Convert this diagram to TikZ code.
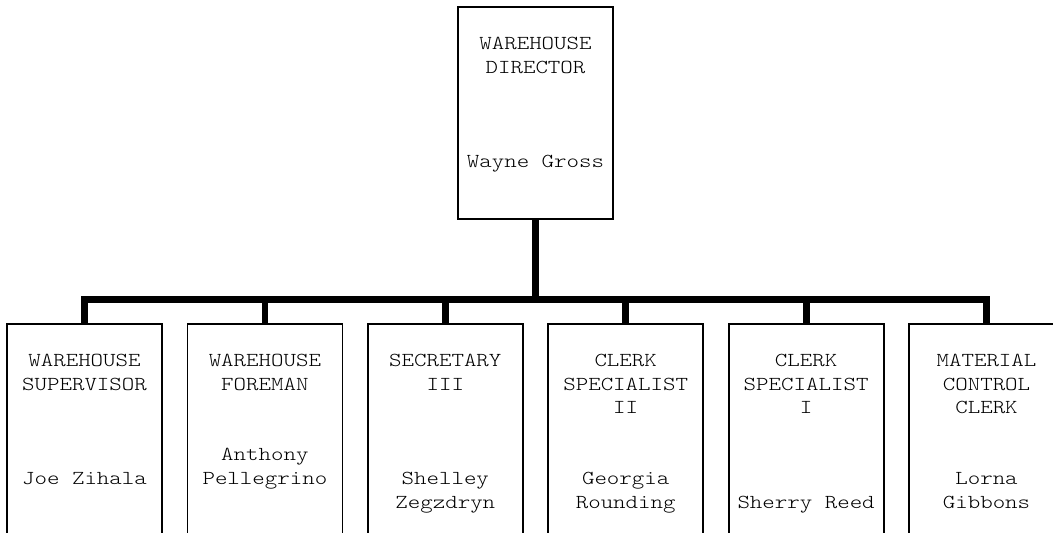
\documentclass[tikz,border=0pt]{standalone}
\usepackage{fontspec}
\newfontfamily\typed[FakeStretch=1.2]{lmmonolt10-regular.otf}
\begin{document}
\begin{tikzpicture}[x=0.5pt,y=-0.5pt,
  post/.style={draw=black, line width=0.9pt, fill=white, inner sep=0pt,
    anchor=north, minimum width=77.5pt},
  toppost/.style={post, minimum height=106pt},
  staffpost/.style={post, minimum height=120pt},
  role/.style={inner sep=0pt, anchor=base,
    font=\typed\fontsize{9.9}{11.75}\selectfont},
  link/.style={line width=3.4pt, line join=miter}]
% page frame
\fill[white] (0,0) rectangle (1053,533);
\useasboundingbox (0,0) rectangle (1053,533);

% director
\node[toppost] (dir) at (535.5,6) {};
\node[role] (dir-t) at ([yshift=-22pt]dir.north)
  {\begin{tabular}[t]{@{}c@{}}WAREHOUSE\\DIRECTOR\\ \\ \\ \\Wayne Gross\end{tabular}};

% staff positions
\node[staffpost] (b1) at (84.5,323) {};
\node[staffpost] (b2) at (264.9,323) {};
\node[staffpost] (b3) at (445.3,323) {};
\node[staffpost] (b4) at (625.7,323) {};
\node[staffpost] (b5) at (806.1,323) {};
\node[staffpost] (b6) at (986.5,323) {};

\node[role] (b1-t) at ([yshift=-22pt]b1.north)
  {\begin{tabular}[t]{@{}c@{}}WAREHOUSE\\SUPERVISOR\\ \\ \\ \\Joe Zihala\end{tabular}};
\node[role] (b2-t) at ([yshift=-22pt]b2.north)
  {\begin{tabular}[t]{@{}c@{}}WAREHOUSE\\FOREMAN\\ \\ \\Anthony\\Pellegrino\end{tabular}};
\node[role] (b3-t) at ([yshift=-22pt]b3.north)
  {\begin{tabular}[t]{@{}c@{}}SECRETARY\\III\\ \\ \\ \\Shelley\\Zegzdryn\end{tabular}};
\node[role] (b4-t) at ([yshift=-22pt]b4.north)
  {\begin{tabular}[t]{@{}c@{}}CLERK\\SPECIALIST\\II\\ \\ \\Georgia\\Rounding\end{tabular}};
\node[role] (b5-t) at ([yshift=-22pt]b5.north)
  {\begin{tabular}[t]{@{}c@{}}CLERK\\SPECIALIST\\I\\ \\ \\ \\Sherry Reed\end{tabular}};
\node[role] (b6-t) at ([yshift=-22pt]b6.north)
  {\begin{tabular}[t]{@{}c@{}}MATERIAL\\CONTROL\\CLERK\\ \\ \\Lorna\\Gibbons\end{tabular}};

% reporting lines
\coordinate (bus) at (535.5,299.5);
\draw[link] (dir.south) -- (bus);
\draw[link] (b1.north) |- (b6.north |- bus) -- (b6.north);
\foreach \b in {b2,b3,b4,b5}
  \draw[link] (\b.north) -- (\b.north |- bus);
\end{tikzpicture}
\end{document}
